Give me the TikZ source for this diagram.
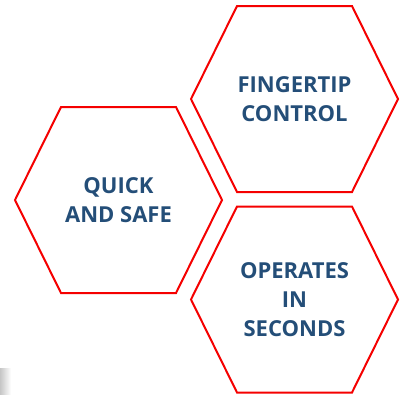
\documentclass[tikz,border=0pt]{standalone}
\usepackage{fontspec}
\setmainfont{Open Sans}
\definecolor{hexred}{RGB}{245,0,0}
\definecolor{txtblue}{RGB}{36,78,120}
\begin{document}
\begin{tikzpicture}[x=1pt,y=-1pt,
  hexa/.style={draw=hexred,line width=2pt,line join=miter,fill=white},
  label/.style={font=\fontsize{22}{29}\selectfont\bfseries,text=txtblue,align=center,inner sep=0pt}]
\useasboundingbox (0,0) rectangle (406,397);
\fill[white] (0,0) rectangle (406,397);
\shade[left color=gray!45,right color=white] (0,368) rectangle (11,394);
\foreach \cx/\cy in {294.5/99, 118.5/200, 294.5/299.5}{
  \draw[hexa] (\cx-103.5,\cy) -- (\cx-57.5,\cy-93) -- (\cx+57.5,\cy-93)
    -- (\cx+103.5,\cy) -- (\cx+57.5,\cy+93) -- (\cx-57.5,\cy+93) -- cycle;
}
\node[label] (fing) at (294.5,99) {FINGERTIP\\CONTROL};
\node[label] (quick) at (118.5,200) {QUICK\\AND SAFE};
\node[label] (oper) at (294.5,299.5) {OPERATES\\IN\\SECONDS};
\end{tikzpicture}
\end{document}
